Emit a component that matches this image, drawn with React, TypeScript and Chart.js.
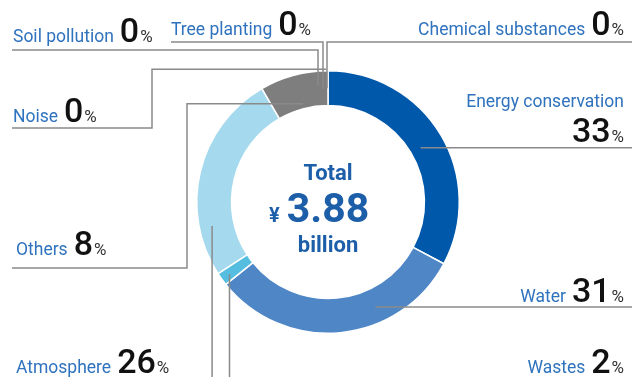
import React, { useEffect, useRef } from 'react';
import { Chart, registerables } from 'chart.js';

Chart.register(...registerables);

// ---- data ----
const categories = [
  'Energy conservation',
  'Water',
  'Wastes',
  'Atmosphere',
  'Others',
  'Noise',
  'Soil pollution',
  'Tree planting',
  'Chemical substances',
];
const shares = [32.8, 31.4, 1.6, 25.8, 8.4, 0, 0, 0, 0];
const shareLabels = ['33', '31', '2', '26', '8', '0', '0', '0', '0'];
const sliceColors = ['#0058ab', '#4f86c6', '#55bde0', '#a5daee', '#7e7e7e', '#7e7e7e', '#7e7e7e', '#7e7e7e', '#7e7e7e'];
const centerTitle = 'Total';
const centerCurrency = '¥';
const centerValue = '3.88';
const centerUnit = 'billion';

// ---- label layout (by category index) ----
type Move = ['h' | 'v', number];
interface Lay {
  frac: number; // position inside the arc span
  rf: number; // radial position between inner (0) and outer (1)
  dx?: number;
  path: Move[];
  tx: number;
  ty: number;
  align: 'left' | 'right';
  ty2?: number; // second line baseline for the number
}
const layouts: Lay[] = [
  { frac: 0.505, rf: 0.31, path: [['h', 632]], tx: 624, ty: 107, ty2: 142, align: 'right' },
  { frac: 0.333, rf: 0.54, path: [['h', 632]], tx: 624, ty: 302, align: 'right' },
  { frac: 0.45, rf: 0.74, path: [['v', 380]], tx: 624, ty: 373, align: 'right' },
  { frac: 0.23, rf: 0.63, path: [['v', 380]], tx: 16, ty: 373, align: 'left' },
  { frac: 0.53, rf: 0.14, path: [['h', 187], ['v', 268], ['h', 12]], tx: 16, ty: 255, align: 'left' },
  { frac: 0, rf: 1.04, dx: -2, path: [['h', 152], ['v', 128], ['h', 12]], tx: 13, ty: 122, align: 'left' },
  { frac: 0, rf: 0.57, dx: -10, path: [['v', 50], ['h', 12]], tx: 13, ty: 42, align: 'left' },
  { frac: 0, rf: 0.49, dx: -5, path: [['v', 42], ['h', 171]], tx: 171, ty: 35, align: 'left' },
  { frac: 0, rf: 0.5, dx: -1, path: [['v', 42], ['h', 632]], tx: 624, ty: 35, align: 'right' },
];

const NAME_FONT = '400 17.5px Roboto';
const NUM_FONT = '500 34px Roboto';
const PCT_FONT = '400 17px Roboto';
const LABEL_BLUE = '#2f72bd';
const CENTER_BLUE = '#1d5ea9';
const LINE_GRAY = '#8a8a8a';

const labelPlugin = {
  id: 'leaderLabels',
  afterDraw(chart: any) {
    const ctx: CanvasRenderingContext2D = chart.ctx;
    const arcs = chart.getDatasetMeta(0).data;
    ctx.save();
    // leader lines
    ctx.strokeStyle = LINE_GRAY;
    ctx.lineWidth = 1.5;
    arcs.forEach((arc: any, i: number) => {
      const lay = layouts[i];
      if (!lay) return;
      const { x, y, startAngle, endAngle, innerRadius, outerRadius } = arc.getProps(
        ['x', 'y', 'startAngle', 'endAngle', 'innerRadius', 'outerRadius'],
        true
      );
      const ang = startAngle + lay.frac * (endAngle - startAngle);
      const r = innerRadius + lay.rf * (outerRadius - innerRadius);
      let px = x + r * Math.cos(ang) + (lay.dx || 0);
      let py = y + r * Math.sin(ang);
      ctx.beginPath();
      ctx.moveTo(px, py);
      lay.path.forEach(([dir, v]) => {
        if (dir === 'h') px = v;
        else py = v;
        ctx.lineTo(px, py);
      });
      ctx.stroke();
    });

    // labels
    ctx.textBaseline = 'alphabetic';
    ctx.textAlign = 'left';
    categories.forEach((name, i) => {
      const lay = layouts[i];
      const num = shareLabels[i];
      ctx.font = NAME_FONT;
      const wName = ctx.measureText(name).width;
      ctx.font = NUM_FONT;
      const wNum = ctx.measureText(num).width;
      ctx.font = PCT_FONT;
      const wPct = ctx.measureText('%').width;
      const gap1 = 6;
      const gap2 = 1;
      if (lay.ty2 !== undefined) {
        ctx.font = NAME_FONT;
        ctx.fillStyle = LABEL_BLUE;
        ctx.fillText(name, lay.tx - wName, lay.ty);
        const x0 = lay.tx - (wNum + gap2 + wPct);
        ctx.font = NUM_FONT;
        ctx.fillStyle = '#111';
        ctx.fillText(num, x0, lay.ty2);
        ctx.font = PCT_FONT;
        ctx.fillStyle = '#333';
        ctx.fillText('%', x0 + wNum + gap2, lay.ty2);
        return;
      }
      const total = wName + gap1 + wNum + gap2 + wPct;
      const x0 = lay.align === 'left' ? lay.tx : lay.tx - total;
      ctx.font = NAME_FONT;
      ctx.fillStyle = LABEL_BLUE;
      ctx.fillText(name, x0, lay.ty);
      ctx.font = NUM_FONT;
      ctx.fillStyle = '#111';
      ctx.fillText(num, x0 + wName + gap1, lay.ty);
      ctx.font = PCT_FONT;
      ctx.fillStyle = '#333';
      ctx.fillText('%', x0 + wName + gap1 + wNum + gap2, lay.ty);
    });

    // center text
    const c = arcs[0];
    const cx = c.x;
    const cy = c.y;
    ctx.fillStyle = CENTER_BLUE;
    ctx.textAlign = 'center';
    ctx.font = '700 22px Roboto';
    ctx.fillText(centerTitle, cx, cy - 22);
    ctx.font = '700 41px Roboto';
    ctx.fillText(centerValue, cx, cy + 20);
    const wVal = ctx.measureText(centerValue).width;
    ctx.textAlign = 'right';
    ctx.font = '700 20px Roboto';
    ctx.fillText(centerCurrency, cx - wVal / 2 - 7, cy + 20);
    ctx.textAlign = 'center';
    ctx.font = '700 22px Roboto';
    ctx.fillText(centerUnit, cx, cy + 50);
    ctx.restore();
  },
};

export default function App() {
  const canvasRef = useRef<HTMLCanvasElement | null>(null);
  useEffect(() => {
    document.body.style.margin = '0';
    const canvas = canvasRef.current;
    if (!canvas) return;
    const chart = new Chart(canvas, {
      type: 'doughnut',
      data: {
        labels: categories,
        datasets: [
          {
            data: shares,
            backgroundColor: sliceColors,
            borderColor: '#ffffff',
            borderWidth: shares.map((v) => (v > 0 ? 1.5 : 0)),
            hoverOffset: 0,
          },
        ],
      },
      options: {
        responsive: false,
        maintainAspectRatio: false,
        animation: false,
        devicePixelRatio: 1,
        cutout: '73.5%',
        layout: { padding: { left: 196, right: 172, top: 69, bottom: 42 } },
        plugins: {
          legend: { display: false },
          tooltip: { enabled: false },
        },
        events: [],
      },
      plugins: [labelPlugin],
    });
    return () => chart.destroy();
  }, []);
  return (
    <div style={{ width: 632, height: 377, background: '#fff' }}>
      <canvas ref={canvasRef} width={632} height={377} style={{ display: 'block' }} />
    </div>
  );
}
